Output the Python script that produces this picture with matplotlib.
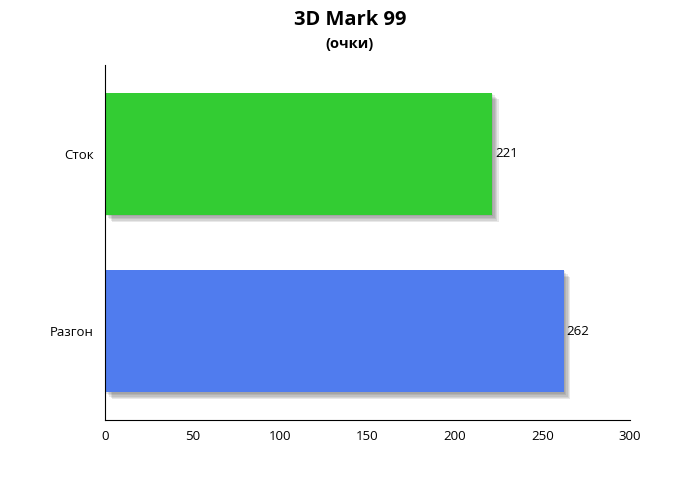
import matplotlib.pyplot as plt
import matplotlib.patheffects as pe

categories = ["Сток", "Разгон"]
values = [221, 262]
colors = ["#33cc33", "#507cee"]

plt.rcParams['font.family'] = ['Open Sans', 'DejaVu Sans']

fig = plt.figure(figsize=(7, 5), dpi=100)
ax = fig.add_axes([0.15, 0.16, 0.75, 0.71])

pos = list(range(len(categories)))[::-1]
bars = ax.barh(pos, values, height=0.69, color=colors, zorder=2)
# soft shadow: a few faint layers
shadow = [pe.SimplePatchShadow(offset=(d, -d), shadow_rgbFace='#444444', alpha=0.12) for d in (1, 2, 3, 4, 5)]
for b in bars:
    b.set_path_effects(shadow + [pe.Normal()])

for p, v in zip(pos, values):
    ax.text(v + 1.8, p, str(v), va='center', ha='left', fontsize=9.5)

ax.set_xlim(0, 300)
ax.set_ylim(-0.5, 1.5)
ax.set_yticks(pos)
ax.set_yticklabels(categories, fontsize=9.5)
ax.set_xticks([0, 50, 100, 150, 200, 250, 300])
ax.tick_params(axis='both', length=0, labelsize=9.5)
ax.tick_params(axis='y', pad=8)
ax.tick_params(axis='x', pad=7)
for s in ['top', 'right']:
    ax.spines[s].set_visible(False)

fig.text(0.5, 0.96, "3D Mark 99", ha='center', va='center', fontsize=14.5, fontweight='bold')
fig.text(0.5, 0.912, "(очки)", ha='center', va='center', fontsize=10.5, fontweight='bold')

fig.savefig("out.png", dpi=100)
